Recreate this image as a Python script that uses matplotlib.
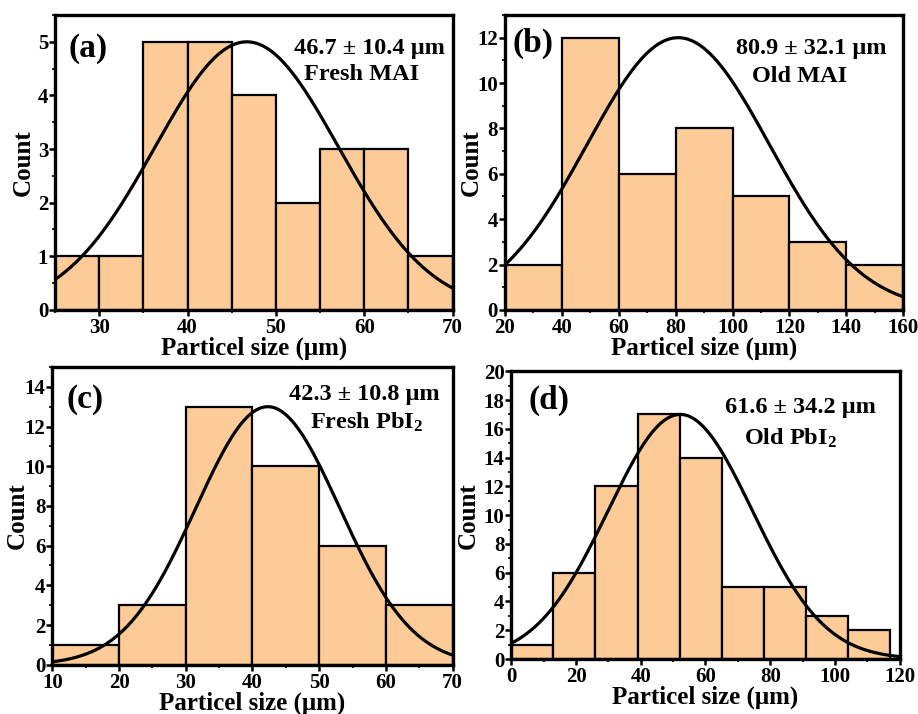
import numpy as np
import matplotlib
matplotlib.use("Agg")
import matplotlib.pyplot as plt
from matplotlib.ticker import MultipleLocator

plt.rcParams['font.family'] = ['Liberation Serif', 'DejaVu Serif']
plt.rcParams['font.weight'] = 'bold'
plt.rcParams['mathtext.fontset'] = 'custom'
plt.rcParams['mathtext.rm'] = 'Liberation Serif:bold'
plt.rcParams['mathtext.bf'] = 'Liberation Serif:bold'
plt.rcParams['mathtext.it'] = 'Liberation Serif:bold'
plt.rcParams['mathtext.default'] = 'bf'

# ---- data ----
edges_a = [25, 30, 35, 40, 45, 50, 55, 60, 65, 70]
counts_a = [1, 1, 5, 5, 4, 2, 3, 3, 1]
fit_a = (5.0, 46.7, 10.4)   # amplitude, centre, width

edges_b = [20, 40, 60, 80, 100, 120, 140, 160]
counts_b = [2, 12, 6, 8, 5, 3, 2]
fit_b = (12.0, 80.9, 32.1)

edges_c = [10, 20, 30, 40, 50, 60, 70]
counts_c = [1, 3, 13, 10, 6, 3]
fit_c = (13.0, 42.3, 10.8)

edges_d = [0, 13, 26, 39, 52, 65, 78, 91, 104, 117]
counts_d = [1, 6, 12, 17, 14, 5, 5, 3, 2]
fit_d = (17.0, 52.2, 22.3)

labels = ["(a)", "(b)", "(c)", "(d)"]
stats = ["46.7 ± 10.4 μm", "80.9 ± 32.1 μm", "42.3 ± 10.8 μm", "61.6 ± 34.2 μm"]
names = ["Fresh MAI", "Old MAI", "Fresh PbI$_2$", "Old PbI$_2$"]

xlims = [(25, 70), (20, 160), (10, 70), (0, 120)]
ylims = [(0, 5.5), (0, 13), (0, 15), (0, 20)]
xmaj = [10, 20, 10, 20]
ymaj = [1, 2, 2, 2]

panels = [(edges_a, counts_a, fit_a), (edges_b, counts_b, fit_b),
          (edges_c, counts_c, fit_c), (edges_d, counts_d, fit_d)]

# ---- layout ----
rects = [
    [0.060, 0.566, 0.433, 0.413],
    [0.550, 0.566, 0.434, 0.413],
    [0.057, 0.069, 0.436, 0.417],
    [0.557, 0.077, 0.423, 0.403],
]
label_pos = [(0.035, 0.885), (0.02, 0.905), (0.035, 0.89), (0.045, 0.90)]
stat_pos = [(0.79, 0.885), (0.77, 0.888), (0.78, 0.906), (0.745, 0.875)]
name_pos = [(0.77, 0.797), (0.74, 0.793), (0.786, 0.815), (0.72, 0.767)]
ylab_x = [-0.08, -0.085, -0.087, -0.11]

fig = plt.figure(figsize=(9.18, 7.14), dpi=100)
bar_color = '#FDCB98'

for i, (edges, counts, fit) in enumerate(panels):
    ax = fig.add_axes(rects[i])
    e = np.array(edges, dtype=float)
    ax.bar(e[:-1], counts, width=np.diff(e), align='edge',
           color=bar_color, edgecolor='black', linewidth=1.6, zorder=2)
    A, mu, sig = fit
    xs = np.linspace(xlims[i][0], xlims[i][1], 400)
    ax.plot(xs, A * np.exp(-(xs - mu) ** 2 / (2 * sig ** 2)),
            color='black', linewidth=2.3, zorder=3)
    ax.set_xlim(*xlims[i])
    ax.set_ylim(*ylims[i])
    ax.xaxis.set_major_locator(MultipleLocator(xmaj[i]))
    ax.xaxis.set_minor_locator(MultipleLocator(xmaj[i] / 2))
    ax.yaxis.set_major_locator(MultipleLocator(ymaj[i]))
    ax.yaxis.set_minor_locator(MultipleLocator(ymaj[i] / 2))
    for s in ax.spines.values():
        s.set_linewidth(2.4)
    ax.tick_params(which='major', direction='out', length=4, width=1.8,
                   labelsize=15, pad=2)
    ax.tick_params(axis='y', which='major', pad=1)
    ax.tick_params(which='minor', direction='out', length=2.5, width=1.2)
    for lab in ax.get_xticklabels() + ax.get_yticklabels():
        lab.set_fontweight('bold')
    ax.set_xlabel("Particel size (μm)", fontsize=18, fontweight='bold', labelpad=-1)
    ax.set_ylabel("Count", fontsize=18, fontweight='bold', va='center')
    ax.yaxis.set_label_coords(ylab_x[i], 0.5)
    ax.text(label_pos[i][0], label_pos[i][1], labels[i], transform=ax.transAxes,
            fontsize=24, fontweight='bold', ha='left', va='center')
    ax.text(stat_pos[i][0], stat_pos[i][1], stats[i], transform=ax.transAxes,
            fontsize=17.5, fontweight='bold', ha='center', va='center')
    ax.text(name_pos[i][0], name_pos[i][1], names[i], transform=ax.transAxes,
            fontsize=17.5, fontweight='bold', ha='center', va='center')

fig.savefig("out.png", dpi=100)
